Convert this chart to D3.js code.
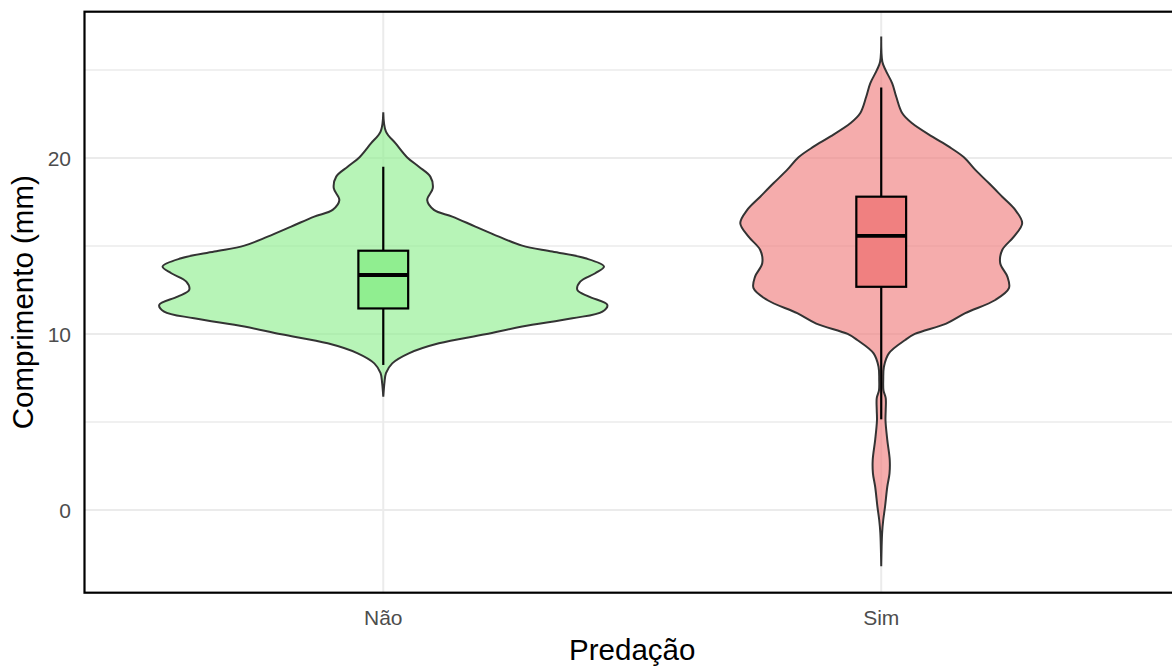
<!DOCTYPE html>
<html>
	<head>
		<title>Comprimento por predação</title>
		<script src="https://d3js.org/d3.v7.min.js"></script>
		<style>
			body { margin: 0; background: #fff; }
			text { font-family: "Liberation Sans", Arial, sans-serif; }
		</style>
	</head>
	<body>
		<div id="chart"></div>
		<script>
			// categories and colours
			var categories = ["Não", "Sim"];
			var fills = ["#90ee90", "#f08080"];

			// violin outlines: y value + relative density
			var naoY =       [22.6, 21.5, 20.83, 20.03, 19.5, 18.94, 18.28, 17.6, 17.05, 16.67, 16.1, 15.53, 15.02, 14.68, 14.3, 13.83, 13.45, 12.97, 12.5, 12.12, 11.65, 11.27, 10.89, 10.42, 9.98, 9.47, 8.9, 8.33, 7.77, 7.2, 6.44];
			var naoDensity = [0, 0.012, 0.055, 0.107, 0.159, 0.21, 0.221, 0.196, 0.226, 0.308, 0.411, 0.516, 0.62, 0.754, 0.902, 0.985, 0.946, 0.879, 0.866, 0.918, 1.0, 0.978, 0.844, 0.62, 0.455, 0.248, 0.114, 0.04, 0.012, 0.005, 0];

			var simY =       [26.9, 25.47, 25.0, 24.24, 23.48, 22.54, 21.97, 21.21, 20.64, 20.04, 19.32, 18.56, 17.8, 17.05, 16.29, 15.53, 14.77, 14.02, 13.26, 12.6, 11.93, 11.18, 10.59, 10.0, 9.66, 8.9, 8.14, 7.4, 6.8, 6.36, 5.68, 5.1, 3.98, 2.84, 2.08, 1.32, 0.19, -0.57, -1.3, -3.2];
			var simDensity = [0, 0.005, 0.019, 0.049, 0.067, 0.094, 0.138, 0.228, 0.302, 0.369, 0.42, 0.481, 0.54, 0.598, 0.629, 0.592, 0.54, 0.531, 0.563, 0.57, 0.509, 0.375, 0.29, 0.15, 0.107, 0.034, 0.012, 0.009, 0.01, 0.02, 0.02, 0.019, 0.027, 0.038, 0.037, 0.027, 0.017, 0.009, 0.004, 0];

			// boxplot stats (Não, Sim)
			var whiskerLow = [8.24, 5.15];
			var q1 = [11.45, 12.68];
			var median = [13.35, 15.57];
			var q3 = [14.73, 17.8];
			var whiskerHigh = [19.5, 24.0];

			var yTicks = [0, 10, 20];
			var yMinor = [-5, 5, 15, 25];

			var width = 1172, height = 666;
			var panel = {left: 84.5, right: 1180, top: 11.7, bottom: 592.7};

			var x = d3.scalePoint().domain(categories).range([panel.left, panel.right]).padding(0.6);
			var y = d3.scaleLinear().domain([-4.7, 28.31]).range([panel.bottom, panel.top]);
			var w = d3.scaleLinear().domain([0, 1]).range([0, x.step() * 0.45]);
			var boxHalf = x.step() * 0.05;

			var svg = d3.select("#chart")
				.append("svg")
				.attr("width", width)
				.attr("height", height);

			svg.append("clipPath").attr("id", "clip")
				.append("rect")
				.attr("x", panel.left).attr("y", panel.top)
				.attr("width", panel.right - panel.left)
				.attr("height", panel.bottom - panel.top);

			var plot = svg.append("g").attr("clip-path", "url(#clip)");

			// grid
			plot.selectAll("line.minor").data(yMinor).enter()
				.append("line")
				.attr("x1", panel.left).attr("x2", panel.right)
				.attr("y1", function(d){ return y(d); })
				.attr("y2", function(d){ return y(d); })
				.style("stroke", "#ebebeb").style("stroke-width", 1.6);

			plot.selectAll("line.major").data(yTicks).enter()
				.append("line")
				.attr("x1", panel.left).attr("x2", panel.right)
				.attr("y1", function(d){ return y(d); })
				.attr("y2", function(d){ return y(d); })
				.style("stroke", "#ebebeb").style("stroke-width", 2);

			plot.selectAll("line.vgrid").data(categories).enter()
				.append("line")
				.attr("y1", panel.top).attr("y2", panel.bottom)
				.attr("x1", function(d){ return x(d); })
				.attr("x2", function(d){ return x(d); })
				.style("stroke", "#ebebeb").style("stroke-width", 2);

			// violins
			var violins = [
				{cat: "Não", ys: naoY, dens: naoDensity, fill: fills[0]},
				{cat: "Sim", ys: simY, dens: simDensity, fill: fills[1]}
			];

			violins.forEach(function(v){
				var pts = v.ys.map(function(val, i){ return [val, v.dens[i]]; });
				var cx = x(v.cat);
				var area = d3.area()
					.curve(d3.curveCatmullRom.alpha(0.5))
					.y(function(p){ return y(p[0]); })
					.x0(function(p){ return cx - w(p[1]); })
					.x1(function(p){ return cx + w(p[1]); });
				plot.append("path")
					.attr("d", area(pts))
					.style("fill", v.fill)
					.style("fill-opacity", 0.65)
					.style("stroke", "#333333")
					.style("stroke-width", 2);
			});

			// boxplots
			categories.forEach(function(c, i){
				var cx = x(c);
				plot.append("line")
					.attr("x1", cx).attr("x2", cx)
					.attr("y1", y(whiskerHigh[i])).attr("y2", y(q3[i]))
					.style("stroke", "#000").style("stroke-width", 2.2);
				plot.append("line")
					.attr("x1", cx).attr("x2", cx)
					.attr("y1", y(q1[i])).attr("y2", y(whiskerLow[i]))
					.style("stroke", "#000").style("stroke-width", 2.2);
				plot.append("rect")
					.attr("x", cx - boxHalf)
					.attr("y", y(q3[i]))
					.attr("width", boxHalf * 2)
					.attr("height", y(q1[i]) - y(q3[i]))
					.style("fill", fills[i])
					.style("stroke", "#000")
					.style("stroke-width", 2.2);
				plot.append("line")
					.attr("x1", cx - boxHalf).attr("x2", cx + boxHalf)
					.attr("y1", y(median[i])).attr("y2", y(median[i]))
					.style("stroke", "#000").style("stroke-width", 3.8);
			});

			// panel border
			svg.append("rect")
				.attr("x", panel.left).attr("y", panel.top)
				.attr("width", panel.right - panel.left)
				.attr("height", panel.bottom - panel.top)
				.style("fill", "none")
				.style("stroke", "#000")
				.style("stroke-width", 2.2);

			// tick labels
			svg.selectAll("text.ytick").data(yTicks).enter()
				.append("text")
				.text(function(d){ return d; })
				.attr("x", 71)
				.attr("y", function(d){ return y(d); })
				.attr("dy", "0.36em")
				.attr("text-anchor", "end")
				.style("font-size", "21px")
				.style("fill", "#4d4d4d");

			svg.selectAll("text.xtick").data(categories).enter()
				.append("text")
				.text(function(d){ return d; })
				.attr("x", function(d){ return x(d); })
				.attr("y", 625)
				.attr("text-anchor", "middle")
				.style("font-size", "21px")
				.style("fill", "#4d4d4d");

			// axis titles
			svg.append("text")
				.text("Predação")
				.attr("x", (panel.left + panel.right) / 2)
				.attr("y", 659.5)
				.attr("text-anchor", "middle")
				.style("font-size", "29.5px")
				.style("fill", "#000");

			svg.append("text")
				.text("Comprimento (mm)")
				.attr("transform", "translate(33," + ((panel.top + panel.bottom) / 2) + ") rotate(-90)")
				.attr("text-anchor", "middle")
				.style("font-size", "29.5px")
				.style("fill", "#000");
		</script>
	</body>
</html>
